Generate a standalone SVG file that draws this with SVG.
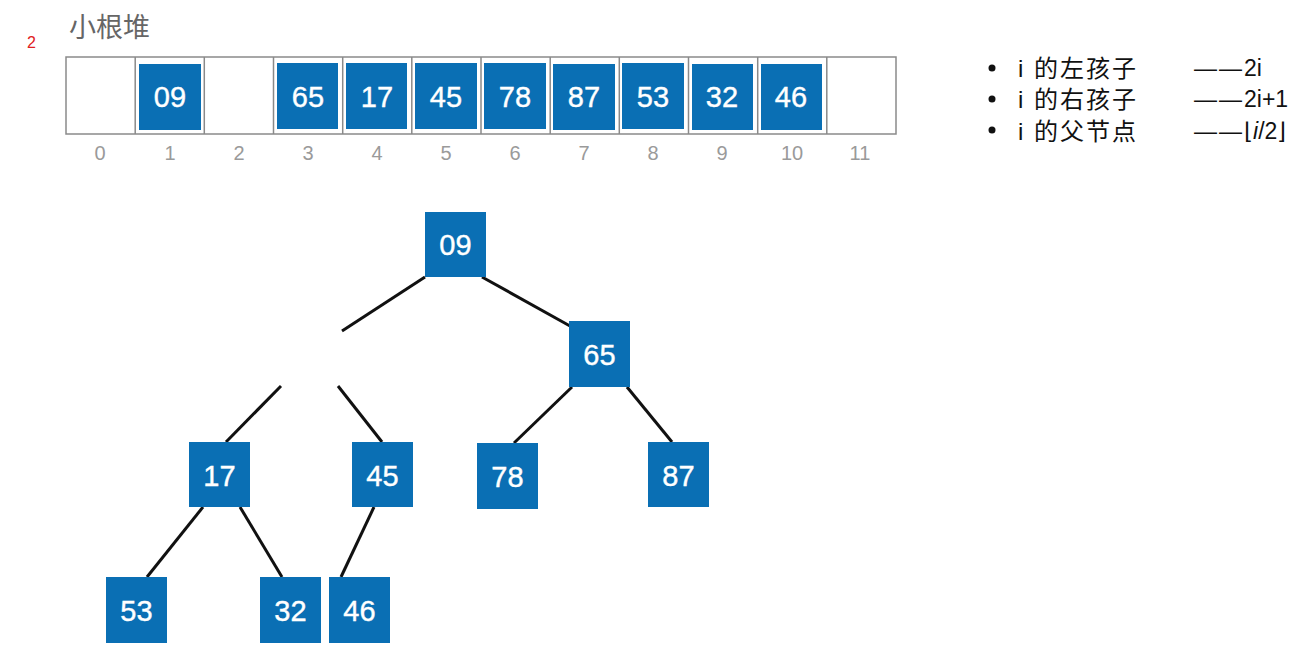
<svg xmlns="http://www.w3.org/2000/svg" width="1301" height="656" viewBox="0 0 1301 656">
<style>
.box{fill:#0a6fb4}
.v{fill:#fff;font-family:"Liberation Sans",Arial,sans-serif;font-size:29px;text-anchor:middle;stroke:#fff;stroke-width:0.4}
.idx{fill:#9a9a9a;font-family:"Liberation Sans",Arial,sans-serif;font-size:20px;text-anchor:middle}
.cell{fill:#fff;stroke:#8a8a8a;stroke-width:1.5}
.edge{stroke:#111;stroke-width:3;stroke-linecap:butt}
.rt{fill:#111;font-family:"Liberation Sans","Noto Sans CJK SC",sans-serif;font-size:23px}
.cjk{font-size:24px;letter-spacing:2px}
</style>
<rect width="1301" height="656" fill="#fff"/>
<text x="27" y="48" fill="#e02020" font-family="Liberation Sans,sans-serif" font-size="16">2</text>
<text x="69" y="37" fill="#666" font-family="Liberation Sans,Noto Sans CJK SC,sans-serif" font-size="27">小根堆</text>
<g id="array">
<rect class="cell" x="66" y="57" width="830" height="77"/>
<g stroke="#8a8a8a" stroke-width="1.5">
<line x1="135.2" y1="57" x2="135.2" y2="134"/><line x1="204.3" y1="57" x2="204.3" y2="134"/><line x1="273.5" y1="57" x2="273.5" y2="134"/><line x1="342.7" y1="57" x2="342.7" y2="134"/><line x1="411.8" y1="57" x2="411.8" y2="134"/><line x1="481" y1="57" x2="481" y2="134"/><line x1="550.2" y1="57" x2="550.2" y2="134"/><line x1="619.3" y1="57" x2="619.3" y2="134"/><line x1="688.5" y1="57" x2="688.5" y2="134"/><line x1="757.7" y1="57" x2="757.7" y2="134"/><line x1="826.8" y1="57" x2="826.8" y2="134"/>
</g>
<g id="a1"><rect class="box" x="139" y="64" width="62" height="66"/><text class="v" x="170" y="107">09</text></g>
<g id="a3"><rect class="box" x="277" y="63" width="61" height="66"/><text class="v" x="308" y="107">65</text></g>
<g id="a4"><rect class="box" x="346" y="63" width="61" height="66"/><text class="v" x="377" y="107">17</text></g>
<g id="a5"><rect class="box" x="415" y="63" width="62" height="66"/><text class="v" x="446" y="107">45</text></g>
<g id="a6"><rect class="box" x="484" y="63" width="62" height="66"/><text class="v" x="515" y="107">78</text></g>
<g id="a7"><rect class="box" x="553" y="64" width="62" height="66"/><text class="v" x="584" y="107">87</text></g>
<g id="a8"><rect class="box" x="622" y="63" width="62" height="66"/><text class="v" x="653" y="107">53</text></g>
<g id="a9"><rect class="box" x="692" y="64" width="61" height="66"/><text class="v" x="722" y="107">32</text></g>
<g id="a10"><rect class="box" x="761" y="64" width="61" height="66"/><text class="v" x="791" y="107">46</text></g>
<g id="indices">
<text class="idx" x="100" y="160">0</text><text class="idx" x="170" y="160">1</text><text class="idx" x="239" y="160">2</text><text class="idx" x="308" y="160">3</text><text class="idx" x="377" y="160">4</text><text class="idx" x="446" y="160">5</text><text class="idx" x="515" y="160">6</text><text class="idx" x="584" y="160">7</text><text class="idx" x="653" y="160">8</text><text class="idx" x="722" y="160">9</text><text class="idx" x="792" y="160">10</text><text class="idx" x="860" y="160">11</text>
</g>
</g>
<g id="legend">
<circle cx="992" cy="68" r="3.5" fill="#111"/><circle cx="992" cy="99" r="3.5" fill="#111"/><circle cx="992" cy="130" r="3.5" fill="#111"/>
<text class="rt cjk" x="1018" y="77">i 的左孩子</text>
<text class="rt cjk" x="1018" y="108">i 的右孩子</text>
<text class="rt cjk" x="1018" y="140">i 的父节点</text>
<text class="rt" x="1194" y="76"><tspan letter-spacing="2">——</tspan>2i</text>
<text class="rt" x="1194" y="107"><tspan letter-spacing="2">——</tspan>2i+1</text>
<text class="rt" x="1194" y="139"><tspan letter-spacing="2">——</tspan>⌊<tspan font-style="italic">i</tspan>/2⌋</text>
</g>
<g id="connectors">
<line class="edge" x1="425" y1="277" x2="342" y2="331"/>
<line class="edge" x1="482" y1="277" x2="570" y2="326"/>
<line class="edge" x1="281" y1="386" x2="226" y2="442"/>
<line class="edge" x1="338" y1="386" x2="382" y2="442"/>
<line class="edge" x1="572" y1="387" x2="514" y2="443"/>
<line class="edge" x1="627" y1="387" x2="672" y2="442"/>
<line class="edge" x1="203" y1="507" x2="147" y2="577"/>
<line class="edge" x1="240" y1="507" x2="282" y2="577"/>
<line class="edge" x1="374" y1="507" x2="341" y2="577"/>
</g>
<g id="n09"><rect class="box" x="425" y="212" width="61" height="65"/><text class="v" x="455.5" y="255">09</text></g>
<g id="n65"><rect class="box" x="569" y="321" width="61" height="66"/><text class="v" x="599.5" y="365">65</text></g>
<g id="n17"><rect class="box" x="189" y="442" width="61" height="65"/><text class="v" x="219.5" y="486">17</text></g>
<g id="n45"><rect class="box" x="352" y="442" width="61" height="65"/><text class="v" x="382.5" y="486">45</text></g>
<g id="n78"><rect class="box" x="477" y="443" width="61" height="66"/><text class="v" x="507.5" y="487">78</text></g>
<g id="n87"><rect class="box" x="648" y="442" width="61" height="65"/><text class="v" x="678.5" y="486">87</text></g>
<g id="n53"><rect class="box" x="106" y="577" width="61" height="66"/><text class="v" x="136.5" y="621">53</text></g>
<g id="n32"><rect class="box" x="260" y="577" width="61" height="66"/><text class="v" x="290.5" y="621">32</text></g>
<g id="n46"><rect class="box" x="329" y="577" width="61" height="66"/><text class="v" x="359.5" y="621">46</text></g>
</svg>
